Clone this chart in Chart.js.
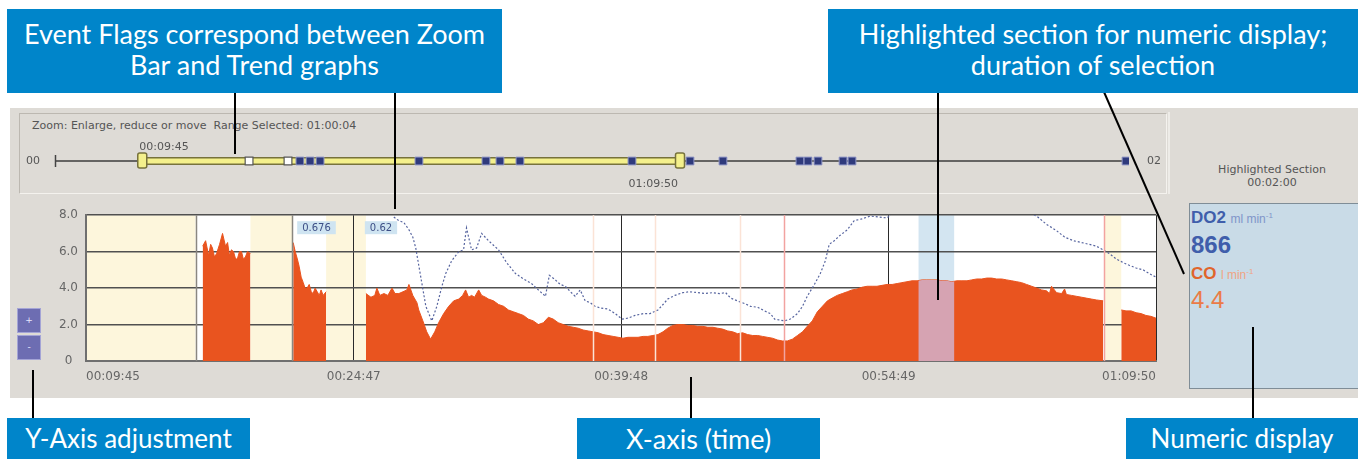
<!DOCTYPE html>
<html>
<head>
<meta charset="utf-8">
<script src="https://cdn.jsdelivr.net/npm/chart.js@4.4.0/dist/chart.umd.min.js"></script>
<style>
  body { margin: 0; width: 1358px; height: 459px; background: #fff; position: relative; overflow: hidden; font-family: 'DejaVu Sans', sans-serif; }
  .abs { position: absolute; }
  .callout { position: absolute; background: #0085ca; color: #fff; font-family: Lato, sans-serif; font-size: 27px; line-height: 31px; text-align: center; display: flex; align-items: center; justify-content: center; box-sizing: border-box; }
  .callout.low { font-size: 26px; }
  #panel { left: 10px; top: 108px; width: 1348px; height: 290px; background: #dedbd6; }
  #zoomBox { left: 19px; top: 113px; width: 1146px; height: 79px; border-top: 1px solid #bcb8b1; border-left: 1px solid #bcb8b1; border-bottom: 1px solid #f4f2ee; border-right: 1px solid #f4f2ee; }
  #sideLine { left: 1168px; top: 112px; width: 2px; height: 82px; background: #eeece8; }
  .small { font-size: 11px; color: #555; white-space: pre; }
  #numBox { left: 1189px; top: 203px; width: 169px; height: 186px; background: #c9dbe7; border: 1px solid #7f8d97; border-right: none; box-sizing: border-box; font-family: 'Liberation Sans', Arial, sans-serif; padding-left: 1px; }
  .btn { left: 17px; width: 24px; height: 25px; background: #6d6db2; border: 1px solid #a4a4d6; box-sizing: border-box; color: #e8e8ff; font-size: 9px; text-align: center; line-height: 22px; }
  canvas { position: absolute; }
</style>
</head>
<body>

<div id="panel" class="abs"></div>
<div id="zoomBox" class="abs"></div>
<div id="sideLine" class="abs"></div>
<div class="abs small" style="left:32px; top:119px;">Zoom: Enlarge, reduce or move  Range Selected: 01:00:04</div>
<div class="abs small" style="left:1192px; top:163px; width:160px; text-align:center; line-height:13px;">Highlighted Section
00:02:00</div>

<div id="numBox" class="abs">
  <div style="margin-top:4px; color:#3f5eab;"><b style="font-size:17px;">DO2</b> <span style="font-size:12px; color:#7f95c9;">ml min<sup style="font-size:8px;">-1</sup></span></div>
  <div style="margin-top:3px; color:#3f5eab; font-size:24px; font-weight:bold;">866</div>
  <div style="margin-top:5px; color:#e0652c;"><b style="font-size:17px;">CO</b> <span style="font-size:12px; color:#f0a482;">l min<sup style="font-size:8px;">-1</sup></span></div>
  <div style="margin-top:2px; color:#ea7b47; font-size:24px;">4.4</div>
</div>

<div class="abs btn" style="top:308px;">+</div>
<div class="abs btn" style="top:335px;">-</div>

<canvas id="zoomBar" width="1145" height="52" style="left:20px; top:135px;"></canvas>
<canvas id="trend" width="1125" height="191" style="left:40px; top:200px;"></canvas>

<svg class="abs" style="left:0; top:0;" width="1358" height="459">
  <g stroke="#000" stroke-width="2">
    <line x1="235" y1="92" x2="235" y2="154"/>
    <line x1="395" y1="92" x2="395" y2="209"/>
    <line x1="938" y1="92" x2="938" y2="300"/>
    <line x1="1104" y1="92" x2="1184" y2="274"/>
    <line x1="33" y1="419" x2="33" y2="370"/>
    <line x1="691" y1="419" x2="691" y2="377"/>
    <line x1="1253" y1="419" x2="1253" y2="327"/>
  </g>
</svg>

<div class="callout" style="left:7px; top:9px; width:495px; height:84px; padding-bottom:4px;">Event Flags correspond between Zoom<br>Bar and Trend graphs</div>
<div class="callout" style="left:828px; top:9px; width:530px; height:84px; padding-bottom:4px;">Highlighted section for numeric display;<br>duration of selection</div>
<div class="callout low" style="left:7px; top:418px; width:243px; height:41px;">Y-Axis adjustment</div>
<div class="callout low" style="left:577px; top:418px; width:243px; height:41px; font-size:27px;">X-axis (time)</div>
<div class="callout low" style="left:1126px; top:418px; width:232px; height:41px;">Numeric display</div>

<script>
// times are seconds since start of recording
const xTickTimes = [585, 1487, 2388, 3289, 4190];
const xTickLabels = ['00:09:45', '00:24:47', '00:39:48', '00:54:49', '01:09:50'];
const yTickValues = [0, 2, 4, 6, 8];

// cardiac output (l/min), null = no signal
const coTimes = [
  978, 988, 998, 1005, 1011, 1018, 1025, 1035, 1045, 1055, 1062, 1068, 1075, 1082, 1089, 1095, 1102, 1109, 1115, 1122, 1129, 1139, 1140,
  1283, 1290, 1297, 1303, 1310, 1317, 1323, 1330, 1337, 1344, 1350, 1357, 1364, 1371, 1377, 1384, 1394, 1395,
  1528, 1545, 1558, 1565, 1575, 1589, 1602, 1616, 1626, 1639, 1653, 1666, 1673, 1686, 1700, 1706, 1720, 1733, 1746, 1760,
  1773, 1790, 1807, 1824, 1841, 1854, 1864, 1874, 1884, 1894, 1908, 1918, 1931, 1941, 1958, 1975, 1992, 2008, 2025, 2042,
  2059, 2075, 2092, 2109, 2126, 2143, 2159, 2176, 2193, 2210, 2227, 2243, 2260, 2277, 2294, 2311, 2327, 2344, 2361, 2378,
  2394, 2411, 2428, 2445, 2462, 2478, 2495, 2512, 2529, 2545, 2562, 2579, 2596, 2613, 2629, 2646, 2663, 2680, 2697, 2713,
  2730, 2747, 2764, 2780, 2797, 2814, 2831, 2848, 2864, 2881, 2898, 2915, 2931, 2948, 2965, 2982, 2999, 3015, 3032, 3049,
  3066, 3083, 3099, 3116, 3133, 3150, 3166, 3183, 3200, 3217, 3234, 3250, 3267, 3284, 3301, 3318, 3334, 3351, 3368, 3385,
  3402, 3418, 3435, 3452, 3469, 3485, 3502, 3519, 3536, 3553, 3569, 3586, 3603, 3620, 3636, 3653, 3670, 3687, 3704, 3721,
  3737, 3754, 3771, 3788, 3804, 3821, 3831, 3838, 3855, 3872, 3882, 3888, 3905, 3922, 3939, 3955, 3972, 3989, 4012, 4013,
  4073, 4089, 4106, 4123, 4140, 4156, 4173, 4190
];
const coValues = [
  6.3, 6.6, 5.8, 6.4, 6.2, 5.7, 5.9, 6.4, 7.0, 6.3, 6.5, 5.8, 6.1, 6.0, 5.6, 5.6, 6.0, 6.0, 5.6, 5.7, 6.0, 5.9, null,
  6.5, 6.0, 5.6, 5.2, 4.6, 4.3, 4.0, 4.0, 4.2, 3.8, 3.7, 4.0, 3.8, 3.6, 3.9, 3.6, 3.8, null,
  3.7, 3.5, 3.6, 4.0, 3.6, 3.7, 3.6, 4.0, 3.7, 3.7, 3.8, 3.9, 4.2, 3.6, 3.2, 2.8, 2.2, 1.6, 1.2, 1.6,
  2.1, 2.6, 3.0, 3.3, 3.4, 3.6, 3.9, 3.5, 3.6, 3.5, 3.9, 3.6, 3.5, 3.4, 3.3, 3.1, 3.0, 2.8, 2.7, 2.6,
  2.5, 2.3, 2.2, 2.0, 2.1, 2.4, 2.3, 2.1, 2.0, 1.9, 1.85, 1.8, 1.7, 1.65, 1.6, 1.55, 1.45, 1.4, 1.35, 1.3,
  1.25, 1.3, 1.3, 1.3, 1.35, 1.35, 1.4, 1.45, 1.6, 1.8, 1.95, 2.0, 2.0, 1.95, 1.95, 1.9, 1.9, 1.85, 1.85, 1.8,
  1.75, 1.65, 1.6, 1.5, 1.55, 1.45, 1.4, 1.4, 1.35, 1.3, 1.25, 1.15, 1.1, 1.1, 1.2, 1.4, 1.6, 1.9, 2.2, 2.7,
  3.0, 3.3, 3.45, 3.6, 3.7, 3.8, 3.9, 3.95, 4.05, 4.1, 4.1, 4.1, 4.15, 4.2, 4.2, 4.25, 4.3, 4.35, 4.4, 4.4,
  4.45, 4.45, 4.45, 4.45, 4.4, 4.4, 4.35, 4.4, 4.4, 4.4, 4.45, 4.5, 4.5, 4.55, 4.55, 4.5, 4.5, 4.45, 4.4, 4.35,
  4.3, 4.2, 4.1, 4.0, 3.9, 3.85, 3.7, 4.1, 3.75, 3.7, 3.95, 3.65, 3.6, 3.55, 3.5, 3.45, 3.4, 3.35, 3.3, null,
  2.8, 2.75, 2.75, 2.65, 2.6, 2.5, 2.45, 2.35
];

// oxygen delivery (ml/min)
const do2Times = [
  1622, 1639, 1656, 1673, 1686, 1696, 1713, 1730, 1750, 1767, 1784, 1797, 1817, 1841, 1857, 1867, 1884, 1901, 1918, 1941,
  1975, 2002, 2032, 2059, 2086, 2109, 2133, 2146, 2163, 2183, 2200, 2217, 2233, 2250, 2267, 2284, 2300, 2321, 2344, 2368,
  2391, 2411, 2435, 2462, 2485, 2512, 2529, 2545, 2569, 2596, 2619, 2646, 2670, 2697, 2720, 2740, 2757, 2780, 2804, 2824,
  2848, 2871, 2891, 2905, 2921, 2938, 2958, 2982, 2999, 3015, 3039, 3059, 3076, 3089, 3106, 3126, 3150, 3173, 3200, 3227,
  3257, 3284, 3301, 3351, 3452, 3553, 3653, 3721, 3788, 3821, 3855, 3882, 3912, 3939, 3965, 3989, 4012, 4032, 4056, 4079,
  4100, 4123, 4147, 4167, 4190
];
const do2Values = [
  790, 770, 760, 720, 680, 620, 460, 300, 220, 300, 410, 480, 550, 600, 610, 730, 610, 620, 700, 660,
  610, 540, 480, 450, 425, 390, 355, 470, 450, 420, 410, 380, 355, 390, 330, 320, 300, 290, 285, 260,
  230, 235, 250, 260, 260, 280, 310, 340, 360, 375, 380, 375, 370, 375, 370, 375, 345, 330, 315, 300,
  295, 275, 260, 230, 225, 220, 230, 260, 300, 355, 420, 480, 550, 640, 660, 690, 720, 770, 780, 795,
  790, 785, 810, 850, 880, 870, 860, 840, 795, 750, 715, 680, 660, 650, 640, 630, 610, 590, 560, 540,
  525, 510, 500, 480, 460
];

// background periods
const cleanPeriods = [[585, 954], [1139, 1280], [1394, 1528], [4016, 4073]];
const highlightPeriod = [3390, 3510];
const markTimes = [954, 1280];
const gapTimes = [2294, 2502, 2790];
const alarmTimes = [2938, 4016];
const flagTimes = [1310, 1538];
const flagTexts = ['0.676', '0.62'];

// overview bar: whole recording 0..7200 s
const recordEnd = 7200;
const selection = [585, 4190];
const selectionLabels = ['00:09:45', '01:09:50'];
const overviewFlagTimes = [1301, 1562];
const overviewEventTimes = [1642, 1710, 1777, 2440, 2889, 2983, 3117, 3868, 4257, 4478, 4994, 5048, 5115, 5283, 5343, 7180];
const overviewEndLabels = ['00', '02'];

const pts = (ts, vs) => ts.map((t, i) => ({ x: t, y: vs[i] }));

const trendDecor = {
  id: 'trendDecor',
  beforeDraw(chart) {
    const { ctx, chartArea: a, scales: { x } } = chart;
    ctx.save();
    ctx.fillStyle = '#ffffff';
    ctx.fillRect(a.left, a.top, a.right - a.left, a.bottom - a.top);
    ctx.fillStyle = '#fdf6dc';
    cleanPeriods.forEach(([s, e]) => {
      const x0 = x.getPixelForValue(s), x1 = x.getPixelForValue(e);
      ctx.fillRect(x0, a.top, x1 - x0, a.bottom - a.top);
    });
    // highlighted section, under the grid
    ctx.fillStyle = '#d3e5f1';
    const h0 = x.getPixelForValue(highlightPeriod[0]), h1 = x.getPixelForValue(highlightPeriod[1]);
    ctx.fillRect(h0, a.top, h1 - h0, a.bottom - a.top);
    ctx.restore();
  },
  afterDatasetsDraw(chart) {
    const { ctx, chartArea: a, scales: { x, y } } = chart;
    ctx.save();
    // re-colour the CO area inside the highlighted section
    const h0 = x.getPixelForValue(highlightPeriod[0]), h1 = x.getPixelForValue(highlightPeriod[1]);
    const base = y.getPixelForValue(0);
    const meta = chart.getDatasetMeta(1);
    ctx.save();
    ctx.beginPath();
    ctx.rect(h0, a.top, h1 - h0, a.bottom - a.top);
    ctx.clip();
    ctx.beginPath();
    let first = null, last = null;
    meta.data.forEach((p, i) => {
      const t = coTimes[i];
      if (coValues[i] === null || t < highlightPeriod[0] - 40 || t > highlightPeriod[1] + 40) return;
      if (first === null) { first = p.x; ctx.moveTo(p.x, base); }
      ctx.lineTo(p.x, p.y);
      last = p.x;
    });
    if (first !== null) {
      ctx.lineTo(last, base);
      ctx.closePath();
      ctx.fillStyle = '#d6a3b2';
      ctx.fill();
    }
    ctx.restore();

    const vline = (t, color, w) => {
      const px = Math.round(x.getPixelForValue(t)) + 0.5;
      ctx.strokeStyle = color; ctx.lineWidth = w;
      ctx.beginPath(); ctx.moveTo(px, a.top); ctx.lineTo(px, a.bottom); ctx.stroke();
    };
    markTimes.forEach(t => vline(t, '#8a8780', 1.5));
    gapTimes.forEach(t => vline(t, '#fbe3d6', 1.5));
    alarmTimes.forEach(t => vline(t, '#f2a3a0', 1.5));

    ctx.font = '10px "DejaVu Sans"';
    ctx.textBaseline = 'middle';
    flagTimes.forEach((t, i) => {
      const px = x.getPixelForValue(t);
      const w = ctx.measureText(flagTexts[i]).width + 10;
      ctx.fillStyle = '#cfe4f1';
      ctx.fillRect(px - 4, a.top + 6, w, 13);
      ctx.fillStyle = '#3d4f86';
      ctx.fillText(flagTexts[i], px + 1, a.top + 13);
    });
    ctx.restore();
  }
};

new Chart(document.getElementById('trend'), {
  type: 'line',
  data: {
    datasets: [
      {
        label: 'DO2', data: pts(do2Times, do2Values), yAxisID: 'y2', order: 0, clip: 0,
        borderColor: '#56649f', borderWidth: 1.2, borderDash: [2, 2], pointRadius: 0, tension: 0, fill: false
      },
      {
        label: 'CO', data: pts(coTimes, coValues), yAxisID: 'y', order: 1,
        borderColor: '#e9541f', backgroundColor: '#e9541f', borderWidth: 1, pointRadius: 0, tension: 0,
        fill: 'origin', spanGaps: false
      }
    ]
  },
  options: {
    responsive: false,
    animation: false,
    layout: { padding: { top: 12, right: 5, left: 0, bottom: 0 } },
    plugins: { legend: { display: false }, tooltip: { enabled: false } },
    scales: {
      x: {
        type: 'linear', min: selection[0], max: selection[1],
        afterBuildTicks: s => { s.ticks = xTickTimes.map(v => ({ value: v })); },
        afterFit: s => { s.height = 30; },
        ticks: {
          callback: v => xTickLabels[xTickTimes.indexOf(v)],
          align: 'inner', maxRotation: 0, autoSkip: false, padding: 9,
          color: '#666', font: { family: 'DejaVu Sans', size: 12 }
        },
        grid: { color: '#2a2a2a', lineWidth: 1, drawTicks: false },
        border: { color: '#6f6f6f', width: 2 }
      },
      y: {
        min: 0, max: 8,
        afterBuildTicks: s => { s.ticks = yTickValues.map(v => ({ value: v })); },
        afterFit: s => { s.width = 46; },
        ticks: {
          callback: v => v === 0 ? '0' : v.toFixed(1),
          crossAlign: 'center', padding: 8,
          color: '#666', font: { family: 'DejaVu Sans', size: 12 }
        },
        grid: { color: '#505050', lineWidth: 1.6, drawTicks: false },
        border: { color: '#6f6f6f', width: 2 }
      },
      y2: { display: false, min: 0, max: 800 }
    }
  },
  plugins: [trendDecor]
});

const overviewDecor = {
  id: 'overviewDecor',
  afterDatasetsDraw(chart) {
    const { ctx, scales: { x, y } } = chart;
    const cy = y.getPixelForValue(0);
    ctx.save();
    // left end tick
    const x0 = Math.round(x.getPixelForValue(0)) + 0.5;
    ctx.strokeStyle = '#444'; ctx.lineWidth = 1.5;
    ctx.beginPath(); ctx.moveTo(x0, cy - 6); ctx.lineTo(x0, cy + 6); ctx.stroke();
    // selection handles
    selection.forEach(t => {
      const px = x.getPixelForValue(t);
      ctx.fillStyle = '#f4f08c'; ctx.strokeStyle = '#77723c'; ctx.lineWidth = 1.5;
      ctx.beginPath();
      ctx.roundRect(px - 4.5, cy - 8, 9, 15, 2);
      ctx.fill(); ctx.stroke();
    });
    ctx.font = '11px "DejaVu Sans"';
    ctx.fillStyle = '#555';
    ctx.textBaseline = 'middle';
    ctx.textAlign = 'left';
    ctx.fillText(selectionLabels[0], x.getPixelForValue(selection[0]) - 3, cy - 14);
    ctx.textAlign = 'right';
    ctx.fillText(selectionLabels[1], x.getPixelForValue(selection[1]) - 2, cy + 23);
    ctx.fillText(overviewEndLabels[0], x.getPixelForValue(0) - 15, cy);
    ctx.textAlign = 'left';
    ctx.fillText(overviewEndLabels[1], x.getPixelForValue(recordEnd) + 18, cy);
    ctx.restore();
  }
};

new Chart(document.getElementById('zoomBar'), {
  type: 'line',
  data: {
    datasets: [
      { data: [{ x: 0, y: 0 }, { x: recordEnd, y: 0 }], borderColor: '#3c3c3c', borderWidth: 1.5, pointRadius: 0, order: 5 },
      { data: pts(selection, [0, 0]), borderColor: '#77723c', borderWidth: 8, pointRadius: 0, order: 4 },
      { data: pts(selection, [0, 0]), borderColor: '#f4f08c', borderWidth: 5, pointRadius: 0, order: 3 },
      {
        data: overviewEventTimes.map(t => ({ x: t, y: 0 })), showLine: false, order: 2,
        pointStyle: 'rect', pointRadius: 5.5, backgroundColor: '#2f3a7c', borderColor: '#8b92c4', borderWidth: 1
      },
      {
        data: overviewFlagTimes.map(t => ({ x: t, y: 0 })), showLine: false, order: 1,
        pointStyle: 'rect', pointRadius: 5.5, backgroundColor: '#ffffff', borderColor: '#555', borderWidth: 1.2
      }
    ]
  },
  options: {
    responsive: false,
    animation: false,
    layout: { padding: { left: 35, right: 36, top: 0, bottom: 0 } },
    plugins: { legend: { display: false }, tooltip: { enabled: false } },
    scales: {
      x: { type: 'linear', min: 0, max: recordEnd, display: false },
      y: { min: -1, max: 1, display: false }
    }
  },
  plugins: [overviewDecor]
});
</script>
</body>
</html>
